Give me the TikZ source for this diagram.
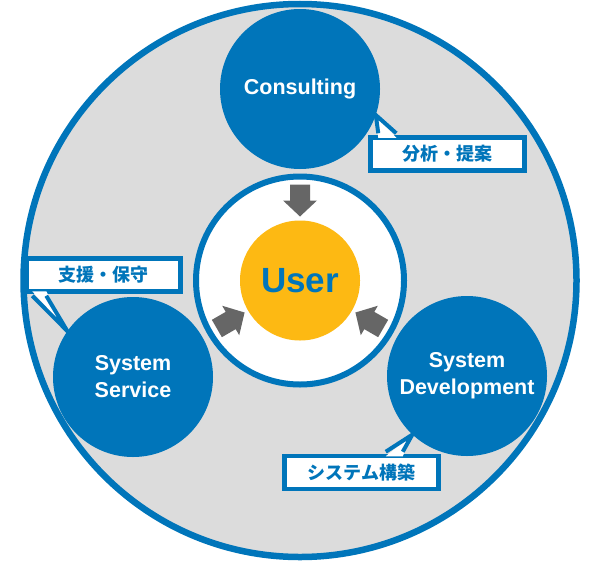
\documentclass[tikz,border=0pt]{standalone}
\usepackage{fontspec}
\setmainfont{Liberation Sans}
\newfontfamily\jpfont{Noto Sans CJK JP}[BoldFont={Noto Sans CJK JP Black}]
\usetikzlibrary{calc}

\definecolor{mainblue}{HTML}{0075BA}
\definecolor{ringgray}{HTML}{DCDCDC}
\definecolor{useryellow}{HTML}{FDB913}
\definecolor{arrowgray}{HTML}{666666}

\begin{document}
\begin{tikzpicture}[x=1pt,y=-1pt,
	svc/.style={circle, fill=mainblue, minimum size=160pt, inner sep=0pt, text=white, align=center, font=\fontsize{21.5}{27}\selectfont\bfseries},
	note/.style={rectangle, draw=mainblue, line width=4.5pt, fill=white, minimum width=154pt, minimum height=33pt, inner sep=0pt, text=mainblue, font=\jpfont\fontsize{18}{20}\selectfont\bfseries},
	pointer/.style={draw=mainblue, line width=4pt, line join=miter}]
		\useasboundingbox (0,0) rectangle (601,562);
		\coordinate (Center) at (300,280.5);
		\draw [fill=ringgray, draw=mainblue, line width=6.5pt] (Center) circle (276.5);% Outer ring
		\draw [fill=white, draw=mainblue, line width=6pt] (Center) circle (104);% Inner white disc
		\node[circle, fill=useryellow, minimum size=120pt, inner sep=0pt, text=mainblue, font=\fontsize{35}{40}\selectfont\bfseries] (User) at (Center) {User};

		\foreach \a in {90,210,330}{% Three grey arrows pointing to the user
			\fill[arrowgray, shift={(Center)}, rotate=\a] (96,-10) -- (80,-10) -- (80,-17) -- (64,0) -- (80,17) -- (80,10) -- (96,10) -- cycle;
		}

		\node[svc] (Consult) at (300,89) {Consulting};
		\node[svc] (Service) at (133,377) {System\\Service};
		\node[svc] (Develop) at (467,376) {System\\Development};

		% Callouts: box, then a white wedge over its border, then the two blue sides
		\node[note] (Analyze) at (447.5,154) {分析・提案};
		\fill[white] ($(Analyze.north west)+(10,2.5)$) -- (Consult.-19) -- ($(Analyze.north west)+(28,2.5)$) -- cycle;
		\draw[pointer] ($(Analyze.north west)+(10,-2)$) -- (Consult.-19) -- ($(Analyze.north west)+(28,-2)$);

		\node[note] (Support) at (103.5,275) {支援・保守};
		\fill[white] ($(Support.south west)+(8,-2.5)$) -- (Service.145) -- ($(Support.south west)+(22,-2.5)$) -- cycle;
		\draw[pointer] ($(Support.south west)+(8,2)$) -- (Service.145) -- ($(Support.south west)+(22,2)$);

		\node[note] (Build) at (361.5,472.5) {システム構築};
		\fill[white] ($(Build.north east)+(-55,2.5)$) -- (Develop.227) -- ($(Build.north east)+(-38,2.5)$) -- cycle;
		\draw[pointer] ($(Build.north east)+(-55,-2)$) -- (Develop.227) -- ($(Build.north east)+(-38,-2)$);
\end{tikzpicture}
\end{document}
